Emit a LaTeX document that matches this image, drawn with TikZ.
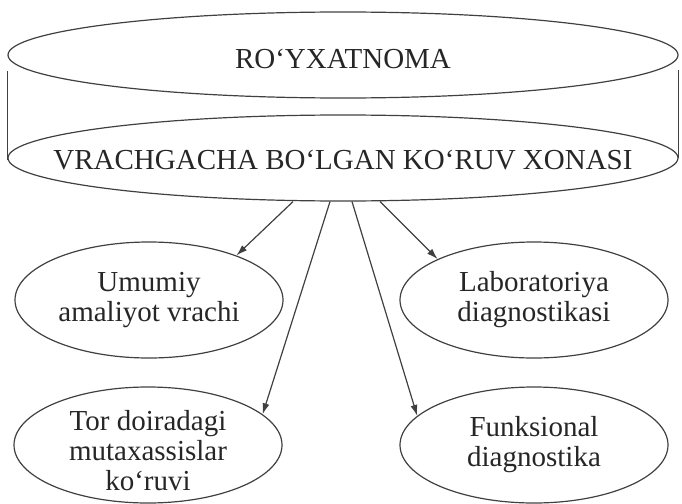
\documentclass[tikz,border=0pt]{standalone}
\usepackage{fontspec}
\setmainfont{Liberation Serif}
\usetikzlibrary{arrows.meta, shapes.geometric}

\begin{document}
\begin{tikzpicture}[
    x=1pt, y=-1pt, black!75, line width=1.2pt,
    every label/.style={align=center, text=black!85, font=\fontsize{29}{30}\selectfont},
    disk/.style={ellipse, draw, inner sep=0pt, minimum width=670pt, minimum height=86pt},
    oval/.style={ellipse, draw, inner sep=0pt, minimum width=268pt, minimum height=116pt},
    link/.style={-{Latex[length=11pt, width=7pt]}}
]
    \useasboundingbox (0,0) rectangle (682,503);
    % cylinder
    \node[disk, label={[yshift=-4pt]center:RO‘YXATNOMA}] (reg) at (343,55) {};
    \node[disk, label={[yshift=-2pt]center:VRACHGACHA BO‘LGAN KO‘RUV XONASI}] (room) at (343,158) {};
    \draw ([yshift=-16pt]reg.west) -- ([yshift=-2pt]room.west);
    \draw ([yshift=-15pt]reg.east) -- ([yshift=0pt]room.east);

    % four rooms
    \node[oval, label={center:Umumiy\\amaliyot vrachi}] (gp) at (149,300) {};
    \node[oval, label={center:Laboratoriya\\diagnostikasi}] (lab) at (534,300) {};
    \node[oval, label={[yshift=-6pt]center:Tor doiradagi\\mutaxassislar\\ko‘ruvi}] (spec) at (148,445) {};
    \node[oval, label={center:Funksional\\diagnostika}] (func) at (534,445) {};

    \draw[link] ([xshift=-50pt]room.south) -- (gp.27);
    \draw[link] ([xshift=-13pt]room.south) -- (spec.15);
    \draw[link] ([xshift=9pt]room.south) -- (func.166);
    \draw[link] ([xshift=37pt]room.south) -- (lab.157);
\end{tikzpicture}
\end{document}
